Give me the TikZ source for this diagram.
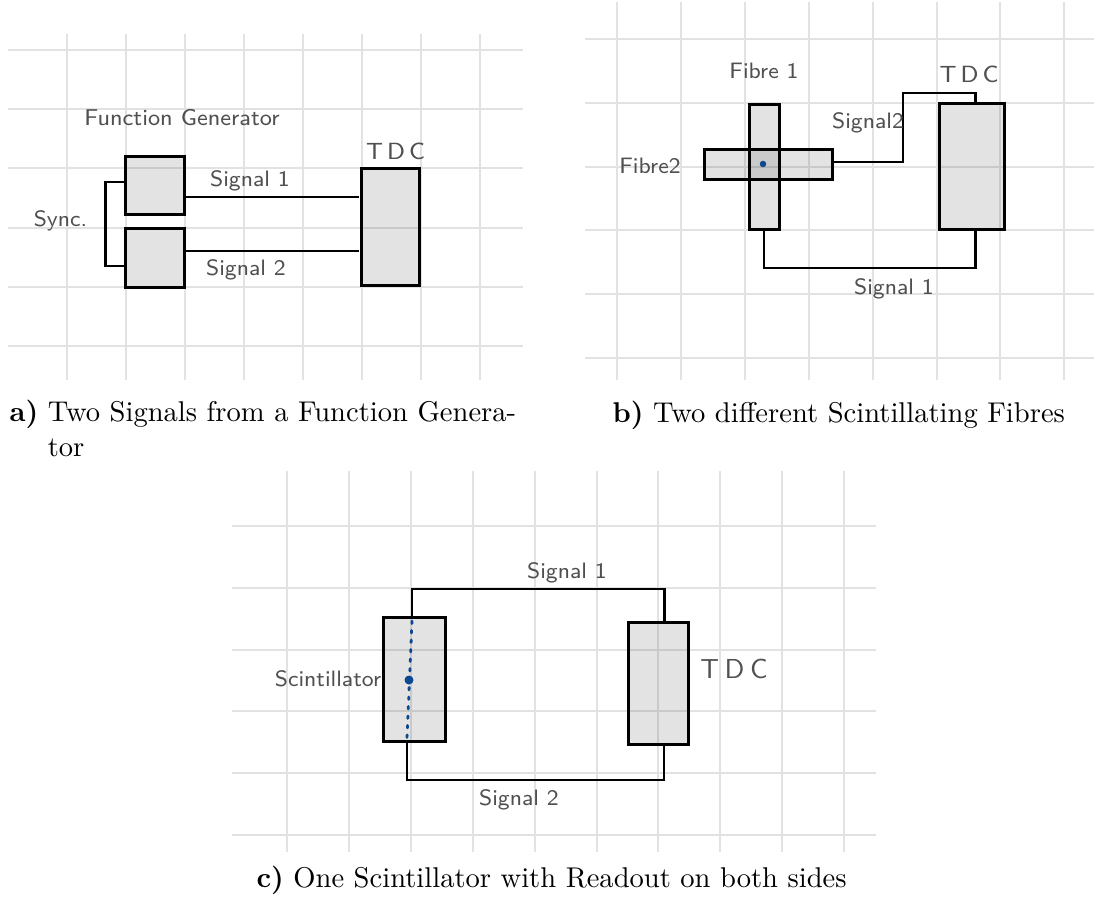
\documentclass[tikz,border=0pt]{standalone}
\usepackage{fontspec}
\usetikzlibrary{calc}

\definecolor{gridgray}{RGB}{226,226,226}
\definecolor{inkgray}{RGB}{80,80,80}
\definecolor{dotblue}{RGB}{12,72,145}

% one drawing unit
\newdimen\pxu \pxu=0.35pt

\tikzset{
  gridline/.style={gridgray, line width=2\pxu},
  box/.style={draw=black, line width=3\pxu, fill=black, fill opacity=0.11,
              inner sep=0pt, outer sep=0pt},
  wire/.style={draw=black, line width=2.6\pxu},
  hand/.style={inkgray, inner sep=0pt, font=\sffamily\fontsize{7.8}{9}\selectfont},
  handbig/.style={hand, font=\sffamily\fontsize{8}{9.6}\selectfont},
  caption/.style={anchor=base west, inner sep=0pt, align=left,
                  font=\fontsize{10}{12}\selectfont},
  hit/.style={circle, fill=dotblue, inner sep=0pt},
  track/.style={dotblue, line width=2.8\pxu, line cap=round,
                dash pattern=on 2.5\pxu off 7\pxu}
}

\newcommand{\tdcword}[1]{T\hspace{#1}D\hspace{#1}C}

\begin{document}
\begin{tikzpicture}[x=0.35pt, y=-0.35pt]
\useasboundingbox (0,0) rectangle (1094,902);

% ---------------- grids ----------------
\foreach \i in {0,...,7} \draw[gridline] ({66.7+59*\i},34) -- ({66.7+59*\i},380);
\foreach \j in {0,...,5} \draw[gridline] (8,{50+59.2*\j}) -- (523,{50+59.2*\j});

\foreach \i in {0,...,7} \draw[gridline] ({617+63.9*\i},2) -- ({617+63.9*\i},380);
\foreach \j in {0,...,5} \draw[gridline] (585,{39+63.8*\j}) -- (1094,{39+63.8*\j});

\foreach \i in {0,...,9} \draw[gridline] ({287+61.9*\i},471) -- ({287+61.9*\i},852);
\foreach \j in {0,...,5} \draw[gridline] (232,{526+61.8*\j}) -- (876,{526+61.8*\j});

% ---------------- (a) function generator ----------------
\node[box, minimum width=59\pxu, minimum height=58\pxu] (fgA) at (154.5,185) {};
\node[box, minimum width=59\pxu, minimum height=59\pxu] (fgB) at (154.5,257.5) {};
\node[box, minimum width=58\pxu, minimum height=117\pxu] (tdcA) at (390,226.5) {};

\draw[wire] ($(fgA.east)+(0,12)$) -- ($(tdcA.west)+(-2.5,-29.5)$);
\draw[wire] ($(fgB.east)+(0,-6.5)$) -- ($(tdcA.west)+(-2.5,24.5)$);

\coordinate (syncA) at (105.5,182);
\coordinate (syncB) at (105.5,266);
\draw[wire] ($(fgA.west)+(0,-3)$) -- (syncA) -- (syncB) -- ($(fgB.west)+(0,8.5)$);

\node[handbig] (lblFG) at (182,118) {Function Generator};
\node[hand, font=\sffamily\fontsize{8.2}{10}\selectfont] (lblTdcA) at (395.5,151) {\tdcword{1.4pt}};
\node[hand] (lblSa1) at (250,181) {Signal 1};
\node[hand] (lblSa2) at (246,270) {Signal 2};
\node[hand] (lblSync) at (60.5,221) {Sync.};

% ---------------- (b) crossed fibres ----------------
\node[box, minimum width=30\pxu, minimum height=125\pxu] (fibA) at (764,166.5) {};
\node[box, minimum width=128\pxu, minimum height=30\pxu] (fibB) at (768,164) {};
\node[hit, minimum size=6.5\pxu] (hitB) at (763,164) {};
\node[box, minimum width=65\pxu, minimum height=126\pxu] (tdcB) at (971.5,166) {};

\coordinate (bUp) at (903,93);
\draw[wire] ($(fibB.east)+(0,-2)$) -| (bUp) -| ($(tdcB.north)+(4,0)$);
\draw[wire] (fibA.south) -- ++(0,39) -| ($(tdcB.south)+(4,0)$);

\node[hand] (lblFibA) at (764,71) {Fibre 1};
\node[hand] (lblFibB) at (650,166) {Fibre2};
\node[hand, font=\sffamily\fontsize{8.2}{10}\selectfont] (lblTdcB) at (969,74) {\tdcword{1.4pt}};
\node[hand] (lblSb2) at (868,123) {Signal2};
\node[hand] (lblSb1) at (894,289) {Signal 1};

% ---------------- (c) scintillator, read out at both ends ----------------
\node[box, minimum width=61.5\pxu, minimum height=124\pxu] (scin) at (414.25,679) {};
\node[box, minimum width=60\pxu, minimum height=122\pxu] (tdcC) at (658,683) {};

\draw[track] ($(scin.north)+(-2.25,4)$) -- ($(scin.south)+(-7.25,-3)$);
\node[hit, minimum size=9\pxu] (hitC) at (409,680) {};

\coordinate (cTop) at (664.5,589);
\coordinate (cBot) at (664,780);
\draw[wire] ($(scin.north)+(-2.25,0)$) |- (cTop) -- ($(tdcC.north)+(6.5,0)$);
\draw[wire] ($(scin.south)+(-7.25,0)$) |- (cBot) -- ($(tdcC.south)+(6,0)$);

\node[hand] (lblSc1) at (567,573) {Signal 1};
\node[hand] (lblSc2) at (519,800) {Signal 2};
\node[hand] (lblScin) at (328,679) {Scintillator};
\node[hand, font=\sffamily\fontsize{9.6}{11}\selectfont] (lblTdcC) at (734,669) {\tdcword{2pt}};

% ---------------- captions ----------------
% base of a two-line node is the baseline of its last line
\node[caption] (capA) at (9,456)
  {\textbf{a)}\ Two Signals from a Function Genera-\\\phantom{\textbf{a)}\ }tor};
\node[caption] (capB) at (612,422) {\textbf{b)}\ Two different Scintillating Fibres};
\node[caption] (capC) at (256,887) {\textbf{c)}\ One Scintillator with Readout on both sides};
\end{tikzpicture}
\end{document}
